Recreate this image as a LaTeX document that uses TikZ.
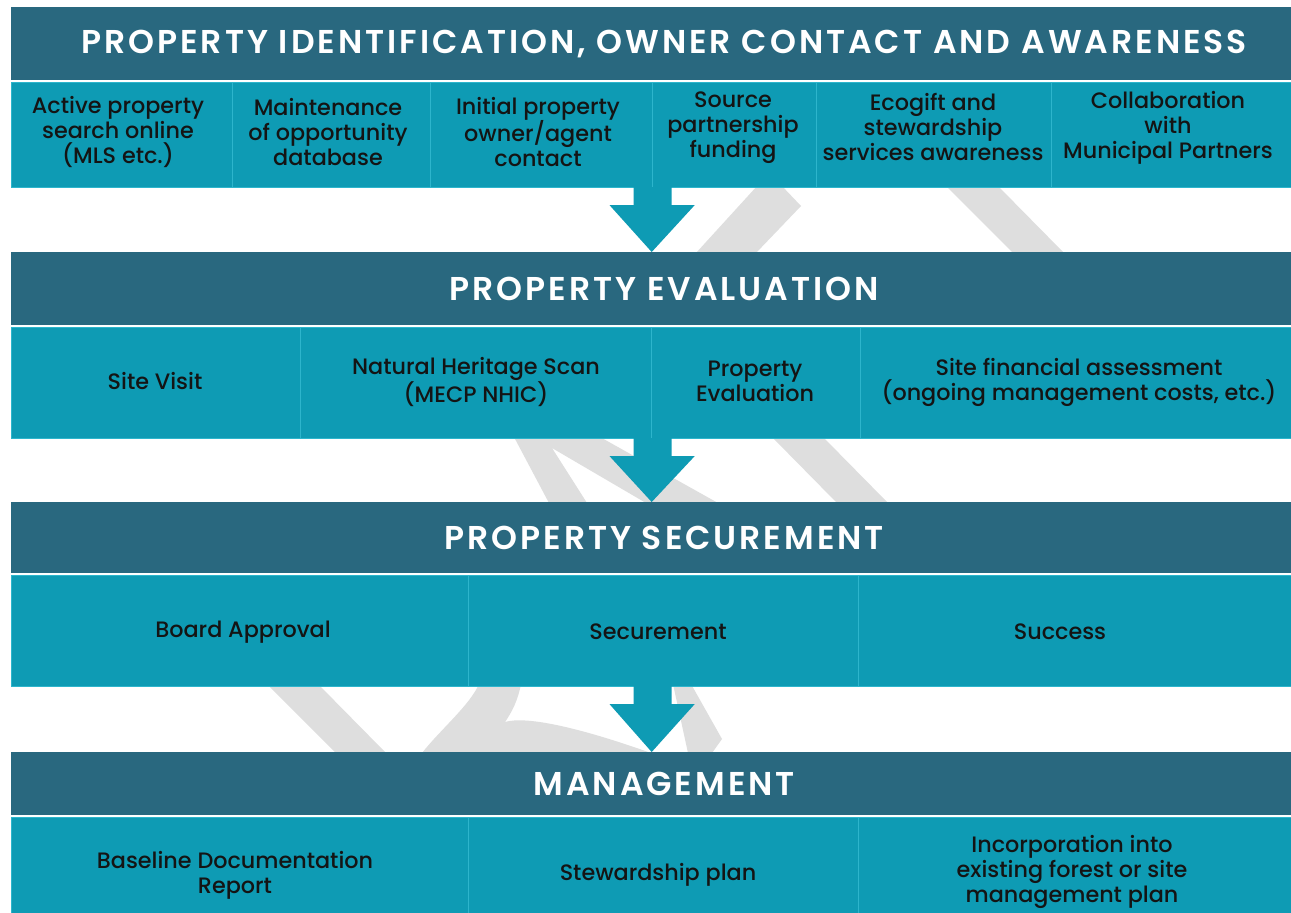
\documentclass[tikz,border=0pt]{standalone}
\usepackage{fontspec}
\setmainfont{Poppins Medium}
\newfontfamily\headfont{Poppins SemiBold}[LetterSpace=9]
\usetikzlibrary{calc}

\definecolor{bandblue}{HTML}{29687F}
\definecolor{cellteal}{HTML}{0E9BB4}
\definecolor{cellline}{HTML}{2DB5CC}
\definecolor{logogray}{HTML}{DEDEDE}
\definecolor{inktext}{HTML}{141414}

% block arrow from the bottom of one row to the top of the next header
\newcommand\stagearrow[2]{%
  \fill[cellteal] ($(#1.south)+(-31,-1)$) -- ($(#1.south)+(7,-1)$) -- ($(#1.south)+(7,17)$)
    -- ($(#1.south)+(30,17)$) -- ($(#2.north)+(-12.5,0)$) -- ($(#1.south)+(-55,17)$)
    -- ($(#1.south)+(-31,17)$) -- cycle;}

\begin{document}
\begin{tikzpicture}[x=1pt, y=-1pt,
  head/.style={fill=bandblue, text=white, anchor=north west, inner sep=0pt,
    minimum width=1306pt, font=\headfont\fontsize{33}{38}\selectfont},
  row/.style={fill=cellteal, draw=cellline, line width=1.2pt, anchor=north west,
    inner sep=0pt, minimum width=1306pt},
  divider/.style={draw=cellline, line width=1pt},
  celltext/.style={align=center, text=inktext, inner sep=0pt,
    font=\fontsize{22.3}{25}\selectfont}]
  \fill[white] (0,0) rectangle (1291,913);
  \useasboundingbox (0,0) rectangle (1291,913);

  % grey logo behind the stages
  \fill[logogray] (696,253) -- (758,185) -- (781,185) -- (801,206) -- (756,253) -- cycle;
  \fill[logogray] (945,185) -- (997,185) -- (1064,253) -- (1013,253) -- cycle;
  \fill[logogray] (514,437) -- (600,437) -- (718,503) -- (646,503) -- (552,448)
    -- (587,503) -- (549,503) -- cycle;
  \fill[logogray] (772,437) -- (823,437) -- (888,503) -- (837,503) -- cycle;
  \fill[logogray] (267,684) -- (318,684) -- (386,753) -- (336,753) -- cycle;
  \fill[logogray] (479,684) -- (521,684) .. controls (518,700) and (512,712) .. (505,722)
    .. controls (525,716) and (575,726) .. (651,753) -- (422,753)
    .. controls (440,730) and (470,705) .. (479,684) -- cycle;
  \fill[logogray] (673,684) -- (691,684) -- (722,739) -- (712,753) -- (688,753) -- cycle;

  % stage 1
  \node[head, minimum height=73pt] (h1) at (11,7) {PROPERTY IDENTIFICATION, OWNER CONTACT AND AWARENESS};
  \node[row, minimum height=105pt] (r1) at (11,82) {};
  \foreach \x in {232,430,652,816,1051}
    \draw[divider] (\x,82) -- (\x,187);
  \node[celltext] (a1) at (118,132) {Active property\\search online\\(MLS etc.)};
  \node[celltext] (a2) at (328,132) {Maintenance\\of opportunity\\database};
  \node[celltext] (a3) at (538,132) {Initial property\\owner/agent\\contact};
  \node[celltext] (a4) at (733,128) {Source\\partnership\\funding};
  \node[celltext] (a5) at (933,127) {Ecogift and\\stewardship\\services awareness};
  \node[celltext] (a6) at (1168,128) {Collaboration\\with\\Municipal Partners};

  % stage 2
  \node[head, minimum height=73pt] (h2) at (11,252) {PROPERTY EVALUATION};
  \node[row, minimum height=111pt] (r2) at (11,327) {};
  \foreach \x in {300,651,860}
    \draw[divider] (\x,327) -- (\x,438);
  \node[celltext] (b1) at (155,381) {Site Visit};
  \node[celltext] (b2) at (476,382) {Natural Heritage Scan\\(MECP NHIC)};
  \node[celltext] (b3) at (755,381) {Property\\Evaluation};
  \node[celltext] (b4) at (1079,382) {Site financial assessment\\(ongoing management costs, etc.)};

  % stage 3
  \node[head, minimum height=71pt] (h3) at (11,502) {PROPERTY SECUREMENT};
  \node[row, minimum height=111pt] (r3) at (11,575) {};
  \foreach \x in {468,858}
    \draw[divider] (\x,575) -- (\x,686);
  \node[celltext] (c1) at (243,632) {Board Approval};
  \node[celltext] (c2) at (658,632) {Securement};
  \node[celltext] (c3) at (1060,632) {Success};

  % stage 4
  \node[head, minimum height=63pt] (h4) at (11,752) {MANAGEMENT};
  \node[row, minimum height=120pt] (r4) at (11,817) {};
  \foreach \x in {468,858}
    \draw[divider] (\x,817) -- (\x,937);
  \node[celltext] (d1) at (235,875) {Baseline Documentation\\Report};
  \node[celltext] (d2) at (658,875) {Stewardship plan};
  \node[celltext] (d3) at (1072,872) {Incorporation into\\existing forest or site\\management plan};

  \stagearrow{r1}{h2}
  \stagearrow{r2}{h3}
  \stagearrow{r3}{h4}
\end{tikzpicture}
\end{document}
